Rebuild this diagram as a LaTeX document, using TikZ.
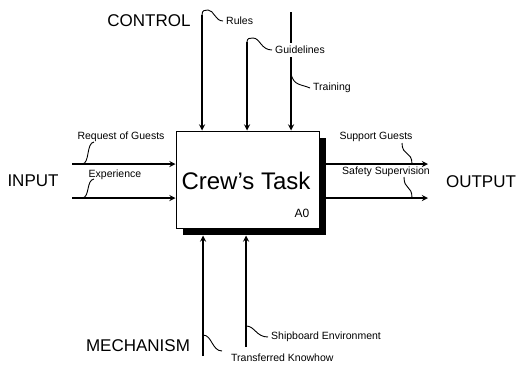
\documentclass[tikz,border=0pt]{standalone}
\usepackage{fontspec}
\setmainfont{Liberation Sans}
\usetikzlibrary{shadows}

\tikzset{
  flow/.style={->, line width=1.7pt},
  wiggle/.style={line width=0.9pt},
  lbl/.style={font=\fontsize{10.5}{12}\selectfont, inner sep=3pt},
  biglbl/.style={font=\fontsize{17}{19}\selectfont, inner sep=0pt},
}

\begin{document}
\begin{tikzpicture}[x=1pt, y=-1pt, >=stealth]
    \useasboundingbox (0,0) rectangle (519,367);

    % === ACTIVITY BOX ===
    \node[draw, line width=1pt, fill=white, minimum width=143pt, minimum height=97pt, inner sep=0pt,
          drop shadow={shadow xshift=7pt, shadow yshift=-7pt, opacity=1, fill=black}] (task) at (247.5,179.5) {};
    \node[font=\fontsize{24}{28}\selectfont] (tasklbl) at (246,181) {Crew’s Task};
    \node[font=\fontsize{12}{14}\selectfont] (tasknum) at (302,213) {A0};
    \coordinate (sb) at ([yshift=-7pt]task.south);

    % === CONTROL ===
    \node[biglbl] (control) at (149,21) {CONTROL};
    \coordinate (c1) at (202,15);
    \coordinate (c2) at (247,42);
    \coordinate (c3) at (291,12);
    \coordinate (t3) at (291,74);
    \node[lbl, anchor=west] (rules) at (223,21) {Rules};
    \node[lbl, anchor=west] (train) at (310,88) {Training};
    \draw[flow] (c3) -- (c3 |- task.north);
    \node[lbl, anchor=west, fill=white] (guide) at (272,50) {Guidelines};
    \draw[flow] (c1) -- (c1 |- task.north);
    \draw[flow] (c2) -- (c2 |- task.north);
    \draw[wiggle] (c1) .. controls (202,10) and (205,10) .. (208,10) .. controls (214,10) and (215,21) .. (rules.west);
    \draw[wiggle] (c2) .. controls (247,38) and (250,38) .. (253,38) .. controls (260,38) and (261,50) .. (guide.west);
    \draw[wiggle] (t3) .. controls (294,86) and (301,84) .. (train.west);

    % === INPUT ===
    \node[biglbl] (input) at (33,181) {INPUT};
    \coordinate (i1) at (72,164);
    \coordinate (i2) at (72,198);
    \draw[flow] (i1) -- (i1 -| task.west);
    \draw[flow] (i2) -- (i2 -| task.west);
    \node[lbl] (req) at (121,137) {Request of Guests};
    \node[lbl] (exp) at (115,175) {Experience};
    \coordinate (w1) at (82,164);
    \coordinate (w2) at (82,198);
    \draw[wiggle] (w1) .. controls (90,164) and (86,143) .. (94,142);
    \draw[wiggle] (w2) .. controls (90,198) and (86,180) .. (94,179);

    % === OUTPUT ===
    \node[biglbl] (output) at (481,182) {OUTPUT};
    \coordinate (o1) at (428,164);
    \coordinate (o2) at (428,198);
    \draw[flow] (o1 -| task.east) -- (o1);
    \draw[flow] (o2 -| task.east) -- (o2);
    \node[lbl] (support) at (376,137) {Support Guests};
    \node[lbl] (safety) at (386,172) {Safety Supervision};
    \coordinate (w3) at (412,164);
    \coordinate (w4) at (412,198);
    \draw[wiggle] (402,143) .. controls (402,156) and (412,151) .. (w3);
    \draw[wiggle] (404,177) .. controls (404,190) and (412,185) .. (w4);

    % === MECHANISM ===
    \node[biglbl] (mech) at (138,346) {MECHANISM};
    \coordinate (m1) at (203,356);
    \coordinate (m2) at (246,347);
    \draw[flow] (m1) -- (m1 |- sb);
    \draw[flow] (m2) -- (m2 |- sb);
    \node[lbl, anchor=west] (knowhow) at (228,358) {Transferred Knowhow};
    \node[lbl, anchor=west] (shipenv) at (268,337) {Shipboard Environment};
    \draw[wiggle] (203,335) .. controls (212,335) and (212,351) .. (222,351);
    \draw[wiggle] (246,326) .. controls (255,326) and (256,337) .. (shipenv.west);
\end{tikzpicture}
\end{document}
